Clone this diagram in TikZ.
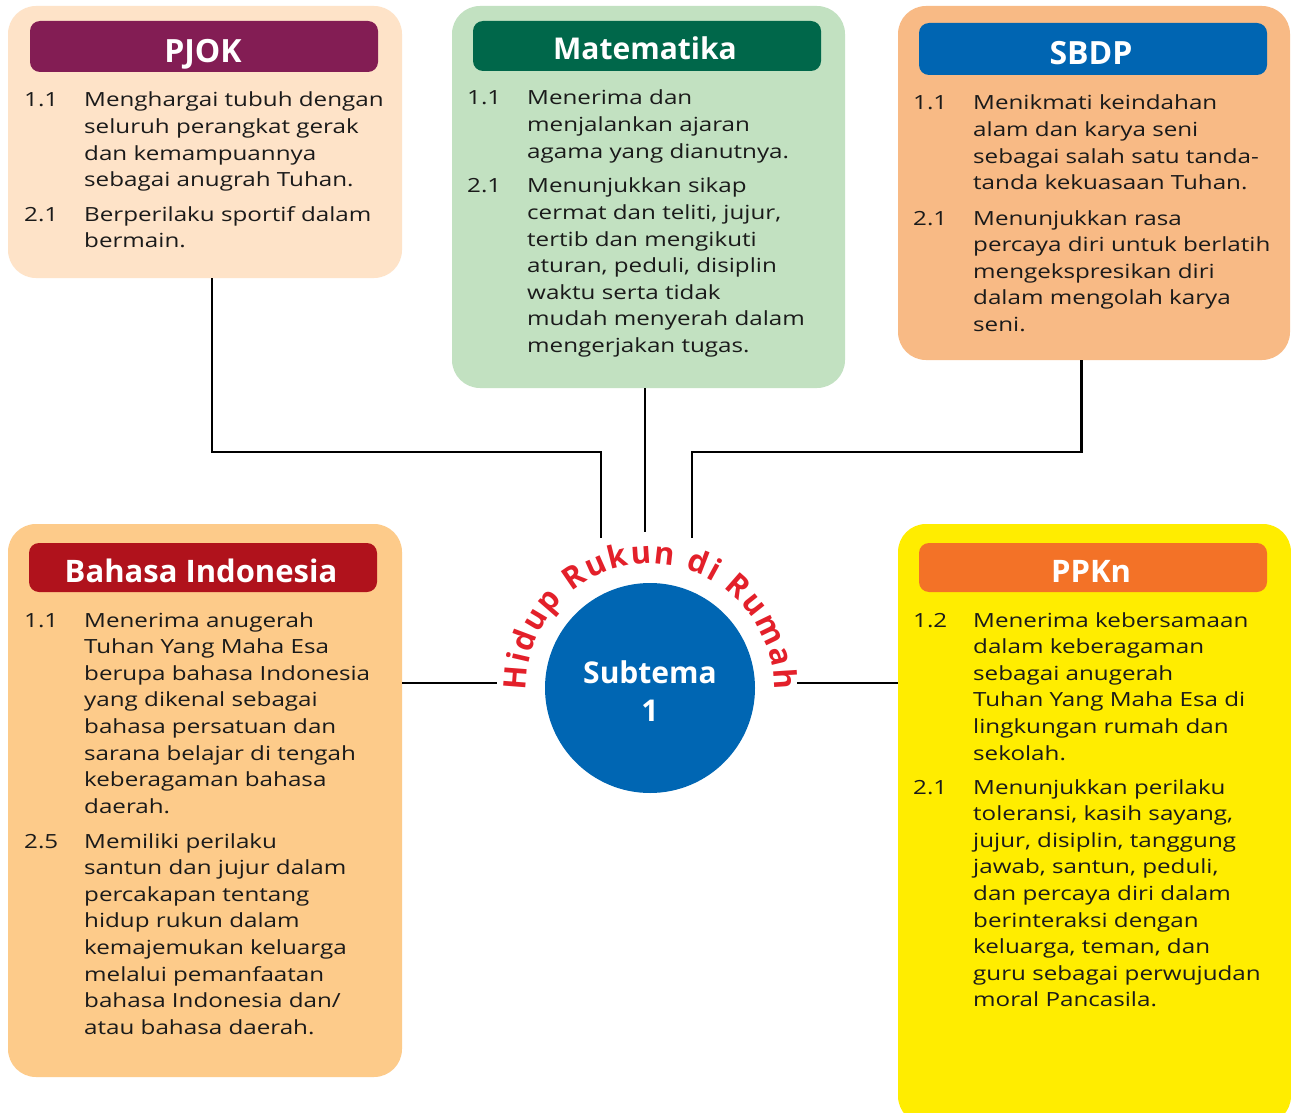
\documentclass[tikz,border=0pt]{standalone}
\usepackage{fontspec}
\newfontfamily\bodyfont{Open Sans}[FakeStretch=1.24]
\newfontfamily\titlefont{Open Sans}
\usetikzlibrary{decorations.text}
\definecolor{ink}{HTML}{1A1A1A}
\definecolor{pjokbg}{HTML}{FEE3C8}
\definecolor{pjokhd}{HTML}{831D54}
\definecolor{matbg}{HTML}{C2E1C1}
\definecolor{mathd}{HTML}{00674A}
\definecolor{sbdpbg}{HTML}{F8BA85}
\definecolor{sbdphd}{HTML}{0065B2}
\definecolor{bibg}{HTML}{FDCB8A}
\definecolor{bihd}{HTML}{B0121C}
\definecolor{ppbg}{HTML}{FFED00}
\definecolor{pphd}{HTML}{F37227}
\definecolor{hubblue}{HTML}{0066B3}
\definecolor{arcred}{HTML}{E3202A}
\newcommand\kdrows[2]{\begin{tabular}[t]{@{}p{60pt}@{}l@{}}#1&#2\end{tabular}}
\begin{document}
\begin{tikzpicture}[x=1pt,y=-1pt,
  panel/.style={rectangle, rounded corners=28pt, inner sep=0pt, outer sep=0pt},
  head/.style={rectangle, rounded corners=10pt, inner sep=0pt, outer sep=0pt, minimum width=348pt},
  ttl/.style={anchor=base, inner sep=0pt, text=white, font=\titlefont\bfseries\fontsize{31}{31}\selectfont},
  kd/.style={anchor=base west, inner sep=0pt, text=ink, font=\bodyfont\fontsize{19.5}{26.6}\selectfont},
  conn/.style={draw=black, line width=2.6pt}]
\useasboundingbox (0,0) rectangle (1291,1113);
\clip (0,0) rectangle (1291,1113);
\fill[white] (0,0) rectangle (1291,1113);

% panels
\node[panel, fill=pjokbg, minimum width=394pt, minimum height=272pt] (pjok) at (205,142) {};
\node[panel, fill=matbg, minimum width=393pt, minimum height=382pt] (mat) at (648.5,197) {};
\node[panel, fill=sbdpbg, minimum width=392pt, minimum height=354pt] (sbdp) at (1094,183) {};
\node[panel, fill=bibg, minimum width=394pt, minimum height=553pt] (bi) at (205,800.5) {};
\node[panel, fill=ppbg, minimum width=393pt, minimum height=600pt] (ppkn) at (1094.5,824) {};

% headers
\node[head, fill=pjokhd, minimum height=51pt] (pjokh) at (204,46.5) {};
\node[head, fill=mathd, minimum height=50pt] (math) at (647,46) {};
\node[head, fill=sbdphd, minimum height=52pt] (sbdph) at (1093,49) {};
\node[head, fill=bihd, minimum height=49pt] (bih) at (203,567.5) {};
\node[head, fill=pphd, minimum height=49pt] (pph) at (1093,567.5) {};

\node[ttl, font=\titlefont\bfseries\fontsize{32}{32}\selectfont] (pjokt) at (203,63) {PJOK};
\node[ttl, font=\titlefont\bfseries\fontsize{30}{30}\selectfont] (matt) at (645,60) {Matematika};
\node[ttl, font=\titlefont\bfseries\fontsize{32}{32}\selectfont] (sbdpt) at (1091,65) {SBDP};
\node[ttl] (bit) at (201,582) {Bahasa Indonesia};
\node[ttl] (ppt) at (1091,582) {PPKn};

% PJOK items
\node[kd] (pj1) at (24,107) {\kdrows{1.1}{Menghargai tubuh dengan\\&seluruh perangkat gerak\\&dan kemampuannya\\&sebagai anugrah Tuhan.}};
\node[kd] (pj2) at (24,221) {\kdrows{2.1}{Berperilaku sportif dalam\\&bermain.}};

% Matematika items
\node[kd] (ma1) at (467,105) {\kdrows{1.1}{Menerima dan\\&menjalankan ajaran\\&agama yang dianutnya.}};
\node[kd] (ma2) at (467,193) {\kdrows{2.1}{Menunjukkan sikap\\&cermat dan teliti, jujur,\\&tertib dan mengikuti\\&aturan, peduli, disiplin\\&waktu serta tidak\\&mudah menyerah dalam\\&mengerjakan tugas.}};

% SBDP items
\node[kd] (sb1) at (913,110) {\kdrows{1.1}{Menikmati keindahan\\&alam dan karya seni\\&sebagai salah satu tanda-\\&tanda kekuasaan Tuhan.}};
\node[kd] (sb2) at (913,225) {\kdrows{2.1}{Menunjukkan rasa\\&percaya diri untuk berlatih\\&mengekspresikan diri\\&dalam mengolah karya\\&seni.}};

% Bahasa Indonesia items
\node[kd] (bi1) at (24,627) {\kdrows{1.1}{Menerima anugerah\\&Tuhan Yang Maha Esa\\&berupa bahasa Indonesia\\&yang dikenal sebagai\\&bahasa persatuan dan\\&sarana belajar di tengah\\&keberagaman bahasa\\&daerah.}};
\node[kd] (bi2) at (24,848) {\kdrows{2.5}{Memiliki perilaku\\&santun dan jujur dalam\\&percakapan tentang\\&hidup rukun dalam\\&kemajemukan keluarga\\&melalui pemanfaatan\\&bahasa Indonesia dan/\\&atau bahasa daerah.}};

% PPKn items
\node[kd] (pp1) at (913,627) {\kdrows{1.2}{Menerima kebersamaan\\&dalam keberagaman\\&sebagai anugerah\\&Tuhan Yang Maha Esa di\\&lingkungan rumah dan\\&sekolah.}};
\node[kd] (pp2) at (913,794) {\kdrows{2.1}{Menunjukkan perilaku\\&toleransi, kasih sayang,\\&jujur, disiplin, tanggung\\&jawab, santun, peduli,\\&dan percaya diri dalam\\&berinteraksi dengan\\&keluarga, teman, dan\\&guru sebagai perwujudan\\&moral Pancasila.}};

% hub
\node[circle, fill=hubblue, minimum size=210pt, inner sep=0pt, align=center, text=white,
  font=\titlefont\bfseries\fontsize{30}{38.7}\selectfont] (hub) at (650,688) {\rule{0pt}{28.8pt}Subtema\\1};
\path[decorate, decoration={text along path, text align={fit to path}, text color=arcred,
  text={|\titlefont\bfseries\fontsize{31}{31}\selectfont|Hidup Rukun di Rumah}}]
  (hub.center) ++(-181:124) arc[start angle=-181, end angle=1, radius=124];

% connector ends
\coordinate (pjBend) at (601,452);
\coordinate (pjEnd) at (601,538);
\coordinate (maEnd) at (645,532);
\coordinate (sbBend) at (692,452);
\coordinate (sbEnd) at (692,538);
\coordinate (biEnd) at (497,683);
\coordinate (ppEnd) at (797,683);

\draw[conn] ([xshift=7pt]pjok.south) |- (pjBend) -- (pjEnd);
\draw[conn] ([xshift=-3.5pt]mat.south) -- (maEnd);
\draw[conn] ([xshift=-12.5pt]sbdp.south) |- (sbBend) -- (sbEnd);
\draw[conn] (bi.east |- biEnd) -- (biEnd);
\draw[conn] (ppEnd) -- (ppEnd -| ppkn.west);
\end{tikzpicture}
\end{document}
